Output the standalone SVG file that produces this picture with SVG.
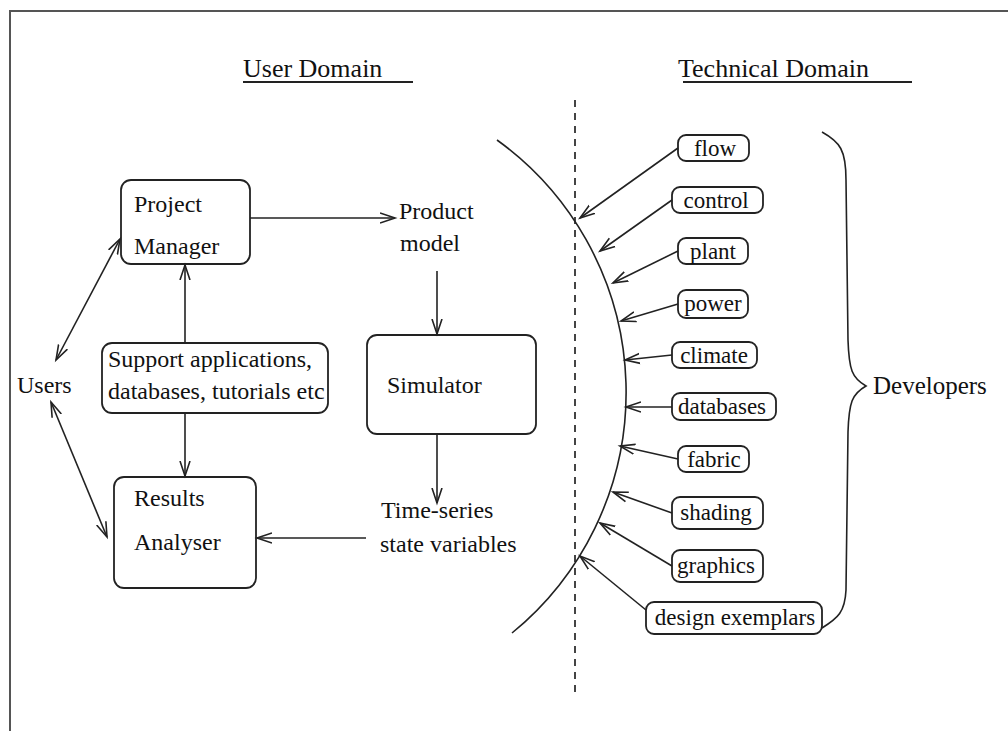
<svg xmlns="http://www.w3.org/2000/svg" width="1008" height="731" viewBox="0 0 1008 731" font-family="'Liberation Serif', 'DejaVu Serif', serif">
  <style>
    text { font-family: 'Liberation Serif', 'Times New Roman', 'DejaVu Serif', serif; fill: #111; }
    .title { font-size: 26px; }
    .lbl { font-size: 24px; }
    .dev { font-size: 25px; }
    .tech { font-size: 23px; text-anchor: middle; }
    .box { fill: #fff; stroke: #222; stroke-width: 1.8; }
    .line { fill: none; stroke: #222; stroke-width: 1.6; }
    .arrow { fill: none; stroke: #222; stroke-width: 1.6; marker-end: url(#head); }
    .both { fill: none; stroke: #222; stroke-width: 1.6; marker-start: url(#head); marker-end: url(#head); }
  </style>
  <defs>
    <marker id="head" markerUnits="userSpaceOnUse" markerWidth="20" markerHeight="14" refX="15" refY="7" orient="auto-start-reverse" viewBox="0 0 20 14">
      <path d="M0,2 L15,7 L0,12" fill="none" stroke="#222" stroke-width="1.6"/>
    </marker>
  </defs>

  <rect width="1008" height="731" fill="#fff"/>

  <!-- page frame -->
  <path d="M10,731 L10,11 L1008,11" fill="none" stroke="#555" stroke-width="2"/>

  <!-- domain headings -->
  <g id="user-domain">
    <text class="title" x="243" y="77">User Domain</text>
    <line x1="243" y1="82" x2="413" y2="82" stroke="#222" stroke-width="2"/>
  </g>
  <g id="technical-domain">
    <text class="title" x="678" y="77">Technical Domain</text>
    <line x1="683" y1="82" x2="912" y2="82" stroke="#222" stroke-width="2"/>
  </g>

  <!-- domain boundary and interface arc -->
  <line x1="575" y1="100" x2="575" y2="698" stroke="#444" stroke-width="2" stroke-dasharray="7 6"/>
  <path class="line" d="M497,140 A311,311 0 0 1 512,633"/>

  <!-- user domain nodes -->
  <g id="project-manager">
    <rect class="box" x="121" y="180" width="129" height="84" rx="10"/>
    <text class="lbl" x="134" y="212">Project</text>
    <text class="lbl" x="134" y="254">Manager</text>
  </g>
  <g id="support">
    <rect class="box" x="102" y="343" width="226" height="70" rx="10"/>
    <text class="lbl" x="108" y="367">Support applications,</text>
    <text class="lbl" x="108" y="399">databases, tutorials etc</text>
  </g>
  <g id="simulator">
    <rect class="box" x="367" y="335" width="169" height="99" rx="10"/>
    <text class="lbl" x="387" y="393">Simulator</text>
  </g>
  <g id="results-analyser">
    <rect class="box" x="114" y="477" width="142" height="111" rx="10"/>
    <text class="lbl" x="134" y="506">Results</text>
    <text class="lbl" x="134" y="550">Analyser</text>
  </g>
  <g id="users">
    <text class="lbl" x="17" y="393">Users</text>
  </g>
  <g id="product-model">
    <text class="lbl" x="399" y="219">Product</text>
    <text class="lbl" x="400" y="251">model</text>
  </g>
  <g id="time-series">
    <text class="lbl" x="381" y="518">Time-series</text>
    <text class="lbl" x="380" y="552">state variables</text>
  </g>

  <!-- technical domain modules -->
  <g id="flow">
    <rect class="box" x="678" y="135" width="71" height="26" rx="8"/>
    <text class="tech" x="715" y="156">flow</text>
  </g>
  <g id="control">
    <rect class="box" x="672" y="187" width="91" height="26" rx="8"/>
    <text class="tech" x="716" y="208">control</text>
  </g>
  <g id="plant">
    <rect class="box" x="678" y="238" width="70" height="26" rx="8"/>
    <text class="tech" x="713" y="259">plant</text>
  </g>
  <g id="power">
    <rect class="box" x="678" y="290" width="70" height="28" rx="8"/>
    <text class="tech" x="713" y="311">power</text>
  </g>
  <g id="climate">
    <rect class="box" x="672" y="342" width="85" height="26" rx="8"/>
    <text class="tech" x="714" y="363">climate</text>
  </g>
  <g id="databases">
    <rect class="box" x="672" y="393" width="104" height="27" rx="8"/>
    <text class="tech" x="722" y="414">databases</text>
  </g>
  <g id="fabric">
    <rect class="box" x="678" y="446" width="71" height="26" rx="8"/>
    <text class="tech" x="714" y="467">fabric</text>
  </g>
  <g id="shading">
    <rect class="box" x="672" y="497" width="91" height="32" rx="8"/>
    <text class="tech" x="716" y="520">shading</text>
  </g>
  <g id="graphics">
    <rect class="box" x="672" y="550" width="91" height="32" rx="8"/>
    <text class="tech" x="716" y="573">graphics</text>
  </g>
  <g id="design-exemplars">
    <rect class="box" x="646" y="602" width="176" height="32" rx="8"/>
    <text class="tech" x="735" y="625">design exemplars</text>
  </g>

  <!-- developers brace -->
  <g id="developers">
    <path class="line" d="M822,132 C840,142 846,150 846,180 L848,340 C849,370 852,378 866,386 C852,394 849,402 848,432 L846,590 C845,612 838,618 822,628"/>
    <text class="dev" x="873" y="394">Developers</text>
  </g>

  <!-- connectors -->
  <g id="connectors">
    <path class="arrow" d="M250,218 L395,218"/>
    <path class="arrow" d="M437,271 L437,334"/>
    <path class="arrow" d="M437,434 L437,503"/>
    <path class="arrow" d="M366,538 L257,538"/>
    <path class="arrow" d="M185,343 L185,265"/>
    <path class="arrow" d="M185,413 L185,476"/>
    <path class="both" d="M56,360 L120,239"/>
    <path class="both" d="M51,402 L107,537"/>

    <path class="arrow" d="M678,148 L580,218"/>
    <path class="arrow" d="M672,200 L600,251"/>
    <path class="arrow" d="M678,251 L613,283"/>
    <path class="arrow" d="M678,304 L621,321"/>
    <path class="arrow" d="M672,355 L625,360"/>
    <path class="arrow" d="M672,407 L626,407"/>
    <path class="arrow" d="M678,459 L620,446"/>
    <path class="arrow" d="M672,513 L613,492"/>
    <path class="arrow" d="M672,566 L600,523"/>
    <path class="arrow" d="M646,610 L580,556"/>
  </g>
</svg>
